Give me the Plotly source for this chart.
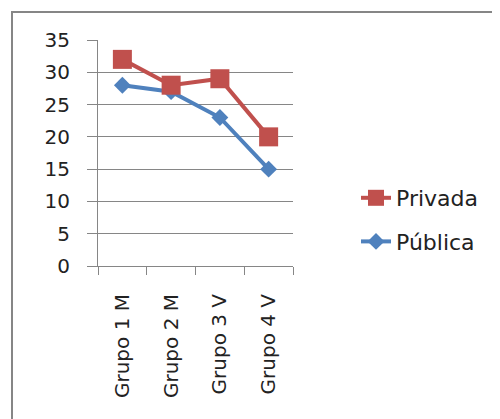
import plotly.graph_objects as go

categories = ["Grupo 1 M", "Grupo 2 M", "Grupo 3 V", "Grupo 4 V"]
privada = [32, 28, 29, 20]
publica = [28, 27, 23, 15]
y_ticks = [0, 5, 10, 15, 20, 25, 30, 35]

OFF = 8  # default page body margin
W, H = 500 - OFF, 419 - OFF
L, R, T, B = 98 - OFF, 293 - OFF, 40 - OFF, 266 - OFF

fig = go.Figure()
fig.add_trace(go.Scatter(
    x=categories, y=publica, name="Pública", mode="lines+markers",
    line=dict(color="#4F81BD", width=4),
    marker=dict(symbol="diamond", size=13, color="#4F81BD"),
    legendgroup="b", legendrank=2,
))
fig.add_trace(go.Scatter(
    x=categories, y=privada, name="Privada", mode="lines+markers",
    line=dict(color="#C0504D", width=4),
    marker=dict(symbol="square", size=19, color="#C0504D"),
    legendgroup="a", legendrank=1,
))

pw, ph = R - L, B - T
def px2x(p):
    return (p - OFF - L) / pw
def py2y(p):
    return (B - (p - OFF)) / ph

fig.update_layout(
    width=W, height=H,
    margin=dict(l=L, r=W - R, t=T, b=H - B, pad=0),
    paper_bgcolor="white", plot_bgcolor="white",
    font=dict(family="DejaVu Sans", size=20, color="#222222"),
    showlegend=True,
    legend=dict(
        x=px2x(356), y=py2y(220), xanchor="left", yanchor="middle",
        traceorder="grouped", tracegroupgap=12,
        font=dict(family="DejaVu Sans", size=22, color="#222222"),
        bgcolor="rgba(0,0,0,0)",
    ),
    xaxis=dict(
        type="category", range=[-0.5, 3.5], tickangle=-90,
        tickson="boundaries", ticks="outside", ticklen=8, tickcolor="#868686",
        showline=True, linecolor="#868686", linewidth=1,
        showgrid=False, zeroline=False, ticklabelstandoff=19,
        tickfont=dict(family="DejaVu Sans", size=20, color="#222222"),
    ),
    yaxis=dict(
        range=[0, 35], tickvals=y_ticks, ticks="outside", ticklen=10,
        tickcolor="#868686", showline=True, linecolor="#868686", linewidth=1,
        showgrid=True, gridcolor="#868686", gridwidth=1, zeroline=False,
        ticklabelstandoff=13,
        tickfont=dict(family="DejaVu Sans", size=20, color="#222222"),
    ),
    shapes=[dict(
        type="rect", xref="paper", yref="paper", layer="below",
        x0=px2x(12), x1=px2x(530), y0=py2y(450), y1=py2y(12),
        line=dict(color="#868686", width=2), fillcolor="rgba(0,0,0,0)",
    )],
)

fig.write_html("out.html")
